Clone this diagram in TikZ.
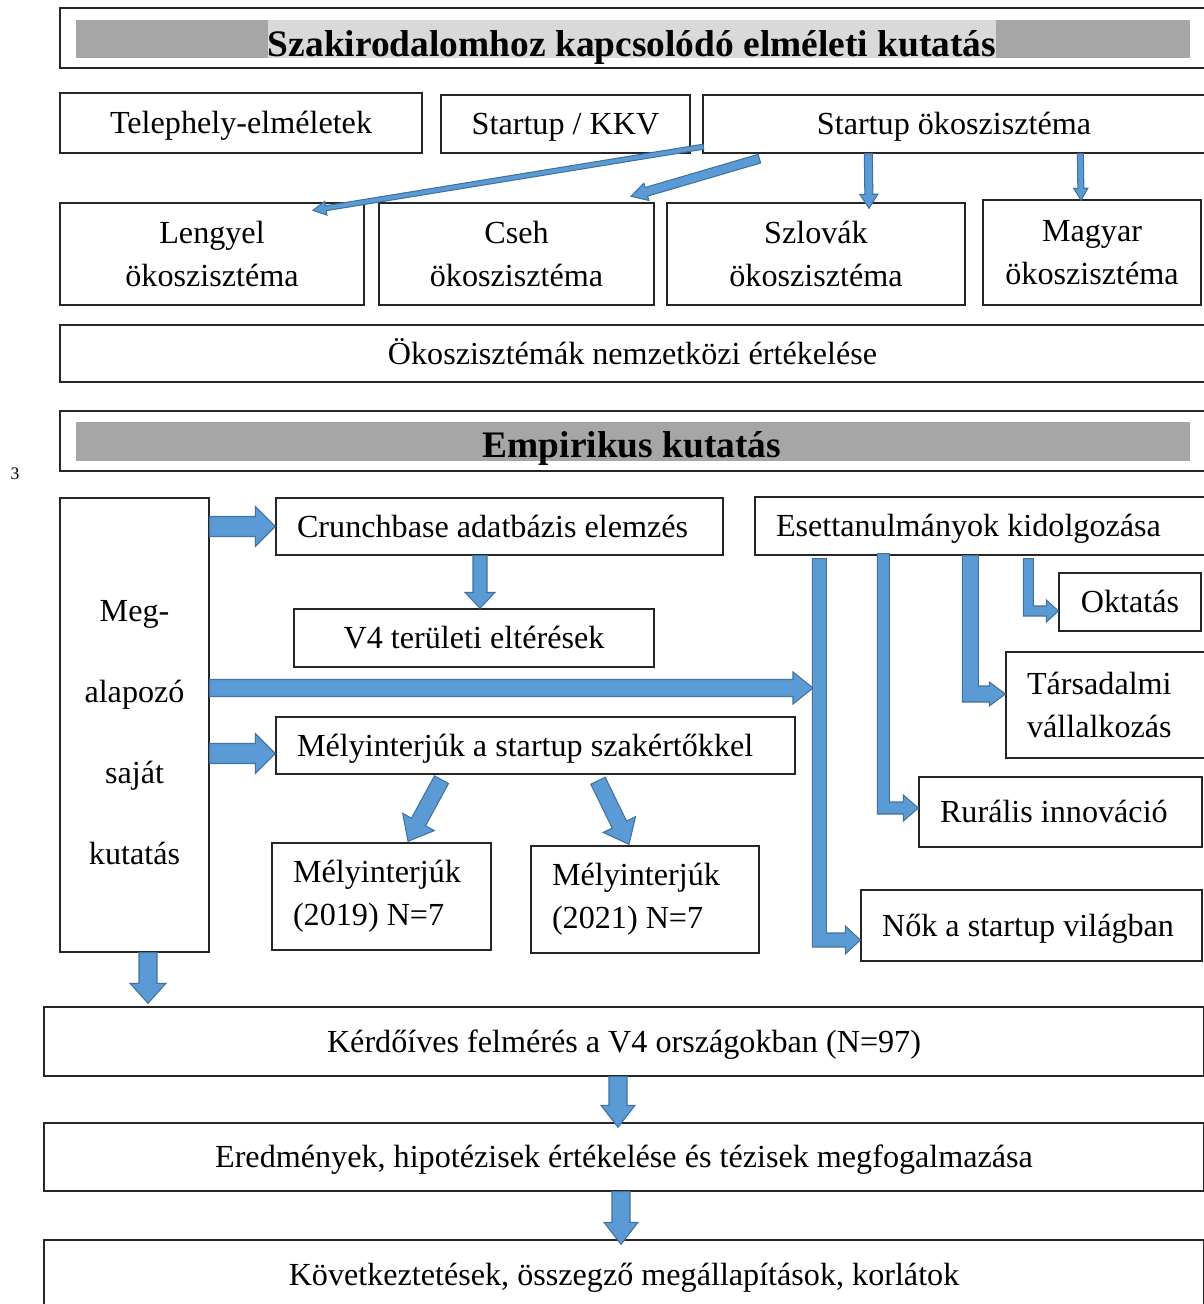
\documentclass[tikz,border=0pt]{standalone}
\usepackage{fontspec}
\setmainfont{Liberation Serif}
\usepackage{xcolor}
\usepackage{tikz}
\usetikzlibrary{calc,positioning}

\definecolor{arrowfill}{HTML}{5B9BD5}
\definecolor{arrowline}{HTML}{41719C}
\definecolor{bargray}{HTML}{A6A6A6}
\definecolor{hilite}{HTML}{D9D9D9}

\newcommand{\bodyfont}{\fontsize{18.3}{24.5}\selectfont}
\newcommand{\headfont}{\fontsize{21.3}{25}\selectfont\bfseries}

% straight block arrow: tail, tip, half shaft, half head, head length
\newcommand{\blockarrow}[5]{%
    \coordinate (ba) at (#1);
    \coordinate (bb) at (#2);
    \coordinate (bh) at ($(bb)!#5!(ba)$);
    \filldraw[blkarrow] ($(ba)!#3!90:(bb)$) -- ($(bh)!#3!90:(bb)$) -- ($(bh)!#4!90:(bb)$)
        -- (bb) -- ($(bh)!#4!-90:(bb)$) -- ($(bh)!#3!-90:(bb)$) -- ($(ba)!#3!-90:(bb)$) -- cycle;
}
% block arrow going down, then right
\newcommand{\elbowarrow}[5]{%
    \coordinate (ea) at (#1);
    \coordinate (eb) at (#2);
    \coordinate (ec) at (ea |- eb);
    \filldraw[blkarrow] ($(ea)+(-#3,0)$) -- ($(ec)+(-#3,#3)$) -- ($(eb)+(-#5,#3)$) -- ($(eb)+(-#5,#4)$)
        -- (eb) -- ($(eb)+(-#5,-#4)$) -- ($(eb)+(-#5,-#3)$) -- ($(ec)+(#3,-#3)$) -- ($(ea)+(#3,0)$) -- cycle;
}

\begin{document}
\begin{tikzpicture}[
        x=0.02cm, y=-0.02cm,
        % Define styles for the boxes and arrows
        box/.style={
            draw=black!85,
            rectangle,
            line width=0.8pt,
            inner sep=0pt,
            font=\bodyfont,
            align=center
        },
        lbox/.style={
            box,
            inner xsep=0.42cm,
            align=flush left
        },
        oneline/.style={
            text height=15pt,
            text depth=3pt
        },
        blkarrow/.style={
            fill=arrowfill,
            draw=arrowline,
            line width=0.6pt,
            line join=miter
        }
    ]
    \useasboundingbox (0,0) rectangle (1203,1304);

    % Theory header
    \node[box, minimum width=23cm, minimum height=1.2cm] (hdrA) at (635,38) {};
    \fill[bargray] (76,20) rectangle (1190,58);
    \node[fill=hilite, inner sep=0pt, text height=21pt, text depth=0.6pt, font=\headfont] (titleA) at (632,39) {Szakirodalomhoz kapcsolódó elméleti kutatás};

    % Theory boxes
    \node[box, oneline, minimum width=7.24cm, minimum height=1.2cm] (tele) at (241,123) {Telephely-elméletek};
    \node[box, oneline, minimum width=4.98cm, minimum height=1.16cm] (skkv) at (565.5,124) {Startup / KKV};
    \node[box, oneline, minimum width=10.04cm, minimum height=1.16cm] (eco) at (954,124) {Startup ökoszisztéma};
    \node[box, minimum width=6.08cm, minimum height=2.04cm] (leng) at (212,254) {Lengyel\\ökoszisztéma};
    \node[box, minimum width=5.5cm, minimum height=2.04cm] (cseh) at (516.5,254) {Cseh\\ökoszisztéma};
    \node[box, minimum width=5.96cm, minimum height=2.04cm] (szlo) at (816,254) {Szlovák\\ökoszisztéma};
    \node[box, minimum width=4.36cm, minimum height=2.1cm] (magy) at (1092,252.5) {Magyar\\ökoszisztéma};
    \node[box, oneline, minimum width=22.9cm, minimum height=1.14cm] (ertek) at (632.5,353.5) {Ökoszisztémák nemzetközi értékelése};

    % Thin arrows from the ecosystem box
    \blockarrow{$(eco.south west)+(1,-7)$}{$(leng.north)+(101,8)$}{0.05cm}{0.14cm}{0.26cm}
    \blockarrow{$(eco.south west)+(57,5)$}{$(cseh.north)+(114.5,-6)$}{0.09cm}{0.18cm}{0.32cm}
    \blockarrow{$(eco.south west)+(166,0)$}{$(szlo.north)+(53,6)$}{0.08cm}{0.18cm}{0.28cm}
    \blockarrow{$(eco.south west)+(378,0)$}{$(magy.north)+(-11,1)$}{0.06cm}{0.14cm}{0.24cm}

    % Empirical header
    \node[box, minimum width=23cm, minimum height=1.2cm] (hdrB) at (635,441) {};
    \fill[bargray] (76,422) rectangle (1190,461);
    \node[font=\headfont, inner sep=0pt] (titleB) at (632,448) {Empirikus kutatás};
    \node[font=\fontsize{10}{12}\selectfont] (pagenum) at (15,474) {3};

    % Empirical boxes
    \node[box, minimum width=2.98cm, minimum height=9.08cm, font=\fontsize{18.3}{46}\selectfont] (meg) at (134.5,725) {\rule{0pt}{20.5pt}Meg-\\alapozó\\saját\\kutatás};
    \node[lbox, oneline, text width=8.1cm, minimum height=1.14cm] (crunch) at (499.5,526.5) {Crunchbase adatbázis elemzés};
    \node[box, oneline, minimum width=7.2cm, minimum height=1.16cm] (v4) at (474,638) {V4 területi eltérések};
    \node[lbox, oneline, text width=8.16cm, minimum height=1.16cm] (esett) at (980,526) {Esettanulmányok kidolgozása};
    \node[box, oneline, minimum width=2.84cm, minimum height=1.16cm] (okt) at (1130,602) {Oktatás};
    \node[lbox, text width=3.14cm, minimum height=2.12cm] (tars) at (1105.5,705) {Társadalmi\\vállalkozás};
    \node[lbox, oneline, text width=9.54cm, minimum height=1.14cm] (mely) at (535.5,745.5) {Mélyinterjúk a startup szakértőkkel};
    \node[lbox, oneline, text width=4.82cm, minimum height=1.4cm] (rur) at (1060.5,812) {Rurális innováció};
    \node[lbox, text width=3.54cm, minimum height=2.14cm] (m19) at (381.5,896.5) {Mélyinterjúk\\(2019) N=7};
    \node[lbox, text width=3.72cm, minimum height=2.14cm] (m21) at (645,899.5) {Mélyinterjúk\\(2021) N=7};
    \node[lbox, oneline, text width=5.98cm, minimum height=1.42cm] (nok) at (1031.5,925.5) {Nők a startup világban};
    \coordinate (hubin) at (813,688);

    % Final boxes
    \node[box, oneline, minimum width=23.2cm, minimum height=1.38cm] (kerd) at (624,1041.5) {Kérdőíves felmérés a V4 országokban (N=97)};
    \node[box, oneline, minimum width=23.2cm, minimum height=1.36cm] (ered) at (624,1157) {Eredmények, hipotézisek értékelése és tézisek megfogalmazása};
    \node[box, oneline, minimum width=23.2cm, minimum height=1.4cm] (kovet) at (624,1275) {Következtetések, összegző megállapítások, korlátok};

    % Block arrows
    \blockarrow{meg.east |- crunch.west}{crunch.west}{0.2cm}{0.4cm}{0.4cm}
    \blockarrow{$(crunch.south)+(-19.5,0)$}{$(v4.north)+(6,0)$}{0.14cm}{0.3cm}{0.32cm}
    \blockarrow{meg.east |- hubin}{hubin}{0.17cm}{0.32cm}{0.4cm}
    \blockarrow{$(meg.east |- mely.west)+(0,8)$}{$(mely.west)+(0,8)$}{0.2cm}{0.4cm}{0.4cm}
    \blockarrow{$(mely.south)+(-94,5)$}{$(m19.north)+(26.5,-1)$}{0.16cm}{0.36cm}{0.44cm}
    \blockarrow{$(mely.south)+(62.5,6)$}{$(m21.north)+(-16,-1)$}{0.16cm}{0.36cm}{0.44cm}
    \blockarrow{$(meg.south)+(13.5,0)$}{$(meg.south |- kerd.north)+(13.5,-3)$}{0.18cm}{0.36cm}{0.4cm}
    \blockarrow{$(kerd.south)+(-6,0)$}{$(ered.north)+(-6,5)$}{0.18cm}{0.34cm}{0.44cm}
    \blockarrow{$(ered.south)+(-3,0)$}{$(kovet.north)+(-3,5)$}{0.18cm}{0.34cm}{0.44cm}

    % Case study arrows
    \elbowarrow{$(esett.south west)+(65,3)$}{$(nok.west)+(0,14.5)$}{7}{14}{15}
    \elbowarrow{$(esett.south west)+(129,-2)$}{$(rur.west)+(0,-4)$}{6}{13}{15}
    \elbowarrow{$(esett.south west)+(216,0)$}{$(tars.west)+(0,-11)$}{8}{12}{16}
    \elbowarrow{$(esett.south west)+(274,3)$}{$(okt.west)+(0,9)$}{5}{11}{12}

\end{tikzpicture}
\end{document}
